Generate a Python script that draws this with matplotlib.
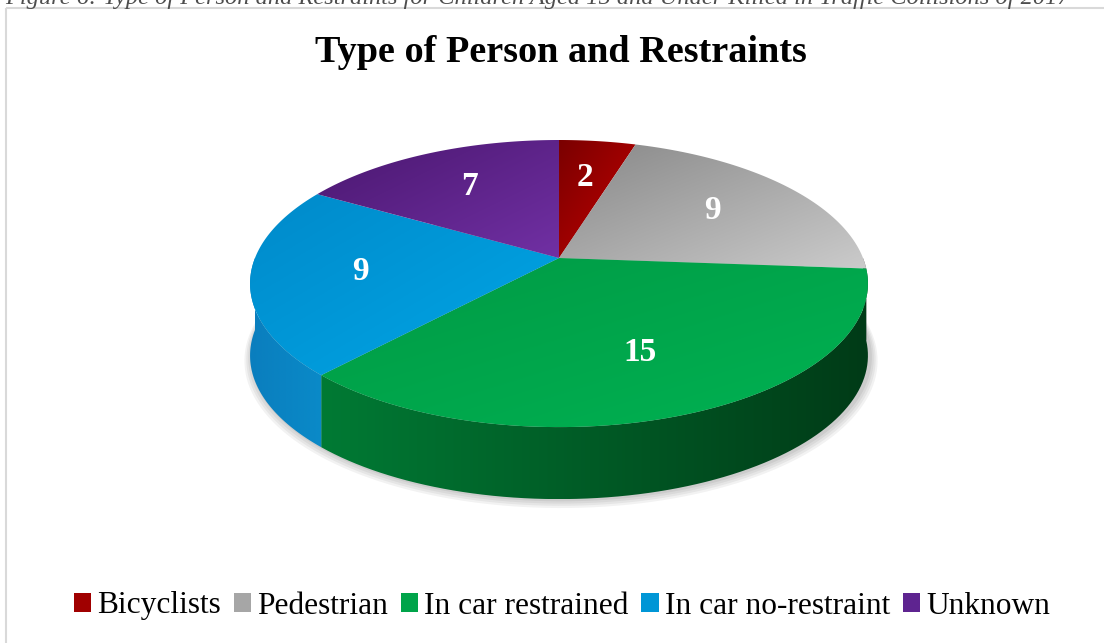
import numpy as np
import matplotlib
matplotlib.use("Agg")
import matplotlib.pyplot as plt
from matplotlib.patches import Polygon, Patch, Rectangle
from matplotlib.colors import LinearSegmentedColormap

# data
categories = ["Bicyclists", "Pedestrian", "In car restrained", "In car no-restraint", "Unknown"]
counts = [2, 9, 15, 9, 7]

top_colors = [("#7a0000", "#c40000"),
              ("#888888", "#cbcbcb"),
              ("#009a45", "#00b252"),
              ("#008aca", "#00a6e6"),
              ("#4a176f", "#7130a4")]
side_colors = [("#6a0000", "#500000"),
               ("#7a7a7a", "#5e5e5e"),
               ("#007a34", "#003b17"),
               ("#0a7ebe", "#0a8ac8"),
               ("#3e135e", "#2e0c48")]
legend_colors = ["#a00000", "#a6a6a6", "#00a44a", "#0096d6", "#5e2490"]

W, H = 1104, 643
CX, CY = 559, 258        # pie centre in pixels
A, B, G = 304, 139, 0.178  # perspective ellipse params
DEPTH = 72

plt.rcParams['font.family'] = ['Liberation Serif', 'DejaVu Serif']

fig = plt.figure(figsize=(W / 100, H / 100), dpi=100)
ax = fig.add_axes([0, 0, 1, 1])


def proj(theta, r=1.0, drop=0.0):
    t = np.radians(theta)
    u = r * np.cos(t)
    v = r * np.sin(t)
    d = 1 + G * v
    return CX + A * u / d, CY - B * v / d + drop


def gradient_fill(poly, c0, c1, direction="diag", z=2):
    xy = poly.get_xy()
    x0, y0 = xy[:, 0].min(), xy[:, 1].min()
    x1, y1 = xy[:, 0].max(), xy[:, 1].max()
    xs = np.linspace(0, 1, 200)
    ys = np.linspace(0, 1, 200)
    gx, gy = np.meshgrid(xs, ys)
    if direction == "diag":
        g = (gx + gy) / 2
    else:
        g = gx
    cmap = LinearSegmentedColormap.from_list("g", [c0, c1])
    im = ax.imshow(g, extent=(x0, x1, y1, y0), origin="upper", cmap=cmap,
                   vmin=0, vmax=1, aspect="auto", zorder=z, interpolation="bilinear")
    im.set_clip_path(poly)


# slice angles, clockwise from 12 o'clock
total = sum(counts)
starts = []
ang = 90.0
for c in counts:
    starts.append((ang, ang - 360.0 * c / total))
    ang -= 360.0 * c / total

# soft shadow
sh = np.linspace(0, 360, 200)
for k, a in enumerate([0.05, 0.05, 0.05, 0.06]):
    sx, sy = proj(sh, r=1.0 + 0.006 * (4 - k), drop=DEPTH + 4 - k)
    ax.add_patch(Polygon(np.column_stack([sx + 2, sy]), closed=True, fc="black",
                         ec="none", alpha=a, zorder=0))

# outer side walls (front half only)
for i, (t1, t2) in enumerate(starts):
    lo, hi = t2, t1
    seg_lo = max(lo, -180.0)
    seg_hi = min(hi, 0.0)
    if lo < -180:
        seg_lo2, seg_hi2 = max(lo + 360, -180), min(hi + 360, 0)
    else:
        seg_lo2, seg_hi2 = 1, 0
    for a0, a1 in [(seg_lo, seg_hi), (seg_lo2, seg_hi2)]:
        if a1 <= a0:
            continue
        th = np.linspace(a0, a1, 80)
        xt, yt = proj(th)
        xb, yb = proj(th[::-1], drop=DEPTH)
        poly = Polygon(np.column_stack([np.r_[xt, xb], np.r_[yt, yb]]), closed=True,
                       fc="none", ec="none")
        ax.add_patch(poly)
        gradient_fill(poly, side_colors[i][0], side_colors[i][1], direction="x", z=1)

# top surfaces
for i, (t1, t2) in enumerate(starts):
    th = np.linspace(t1, t2, 120)
    xa, ya = proj(th)
    poly = Polygon(np.column_stack([np.r_[CX, xa], np.r_[CY, ya]]), closed=True,
                   fc="none", ec="none")
    ax.add_patch(poly)
    gradient_fill(poly, top_colors[i][0], top_colors[i][1], z=3)

    mid = (t1 + t2) / 2
    lx, ly = proj(mid, r=0.65)
    ax.text(lx, ly, str(counts[i]), color="white", fontsize=24, fontweight="bold",
            ha="center", va="center", zorder=5)

# chart border
ax.add_patch(Rectangle((5.5, 7.5), 1200, 800, fill=False, ec="#d9d9d9", lw=1.5, zorder=0))

ax.set_xlim(0, W)
ax.set_ylim(H, 0)
ax.axis("off")

# caption (cut off at top in the original)
fig.text(5 / W, 1 - 4 / H, "Figure 6: Type of Person and Restraints for Children Aged 15 and "
         "Under Killed in Traffic Collisions of 2017", fontsize=17.6, style="italic",
         color="#4d4d4d", ha="left", va="baseline")

fig.text(561 / W, 1 - 52 / H, "Type of Person and Restraints", fontsize=27.5,
         fontweight="bold", ha="center", va="center")

handles = [Patch(fc=c, ec="none") for c in legend_colors]
fig.legend(handles, categories, loc="center", bbox_to_anchor=(562 / W, 1 - 606 / H),
           ncol=5, frameon=False, fontsize=22.6, handlelength=0.55, handleheight=0.55,
           handletextpad=0.2, columnspacing=0.4, borderpad=0)

fig.savefig("out.png", dpi=100)
